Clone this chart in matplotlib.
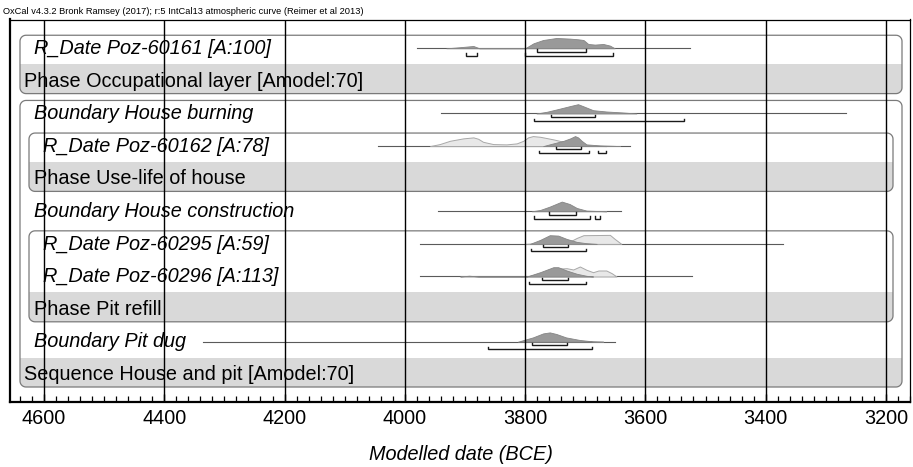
import numpy as np
import matplotlib
matplotlib.use('Agg')
import matplotlib.pyplot as plt
from matplotlib.path import Path
from matplotlib.patches import PathPatch, Rectangle
from matplotlib.transforms import blended_transform_factory
from matplotlib.ticker import MultipleLocator

plt.rcParams['font.family'] = ['Liberation Sans', 'DejaVu Sans']

# rows from top to bottom
labels = ['R_Date Poz-60161 [A:100]', 'Phase Occupational layer [Amodel:70]',
          'Boundary House burning', 'R_Date Poz-60162 [A:78]', 'Phase Use-life of house',
          'Boundary House construction', 'R_Date Poz-60295 [A:59]', 'R_Date Poz-60296 [A:113]',
          'Phase Pit refill', 'Boundary Pit dug', 'Sequence House and pit [Amodel:70]']
levels = [1, 0, 1, 2, 1, 1, 2, 2, 1, 1, 0]
italic = [True, False, True, True, False, True, True, True, False, True, False]

# full range line under each distribution (BCE)
line_range = {0: (3980, 3526), 2: (3940, 3267), 3: (4045, 3626), 5: (3944, 3641),
              6: (3975, 3371), 7: (3975, 3522), 9: (4335, 3650)}

# modelled (dark) distributions: years, relative height
post_years = {
    0: [3931, 3910, 3886, 3876, 3800, 3786, 3770, 3748, 3726, 3712, 3703, 3695, 3684, 3670, 3659, 3651],
    2: [3781, 3764, 3748, 3726, 3712, 3701, 3687, 3665, 3637, 3615],
    3: [3770, 3753, 3736, 3725, 3717, 3712, 3706, 3698, 3676, 3654, 3642],
    5: [3789, 3775, 3759, 3739, 3726, 3714, 3698, 3665],
    6: [3792, 3775, 3759, 3745, 3731, 3714, 3698, 3681],
    7: [3908, 3893, 3878, 3797, 3775, 3753, 3745, 3731, 3714, 3698, 3687],
    9: [3812, 3787, 3770, 3759, 3748, 3732, 3709, 3687, 3670],
}
post_prob = {
    0: [0, 1.0, 2.3, 0, 0, 5, 8.3, 10.3, 9.7, 9, 8.3, 4.3, 3.7, 4.3, 2.7, 0],
    2: [0, 1.7, 4, 7.3, 9.3, 6.7, 3.3, 2, 1, 0],
    3: [0, 2.7, 5.3, 7.7, 10, 8.7, 5.3, 1.7, 0.7, 0.3, 0],
    5: [0, 1.3, 4.7, 9.7, 7.3, 3.3, 0.7, 0],
    6: [0, 4, 8.7, 8.3, 5, 2, 0.7, 0],
    7: [0, 0.8, 0, 0, 4.3, 9.3, 9.3, 6, 2.7, 0.7, 0],
    9: [0, 4.3, 8.3, 9.3, 7.7, 4.3, 1.7, 0.3, 0],
}

# unmodelled (light) likelihoods
like_years = {
    3: [3958, 3942, 3925, 3903, 3886, 3878, 3870, 3853, 3831, 3814, 3803, 3795, 3787, 3775,
        3753, 3736, 3720, 3709, 3698, 3687, 3665],
    6: [3800, 3770, 3740, 3726, 3714, 3703, 3659, 3651, 3640],
    7: [3797, 3775, 3753, 3740, 3731, 3720, 3709, 3698, 3687, 3678, 3665, 3656, 3648],
}
like_prob = {
    3: [0, 2, 5.3, 7.7, 8.7, 7.3, 4.3, 2, 1.7, 2.7, 5.3, 8.7, 10, 9.3, 6.7, 4.3, 3.3, 2.7, 1, 0.3, 0],
    6: [0, 1, 1.5, 2.3, 6, 8.7, 9, 5, 0],
    7: [0, 3, 7, 8, 8.3, 7, 10, 6.7, 4.3, 6, 6, 3.3, 0],
}

# highest posterior density ranges
hpd68 = {0: [(3781, 3699)], 2: [(3757, 3683)], 3: [(3748, 3707)], 5: [(3761, 3716)],
         6: [(3771, 3728)], 7: [(3772, 3728)], 9: [(3789, 3730)]}
hpd95 = {0: [(3898, 3880), (3800, 3654)], 2: [(3785, 3535)], 3: [(3777, 3693), (3679, 3665)],
         5: [(3785, 3692), (3684, 3676)], 6: [(3791, 3699)], 7: [(3793, 3699)], 9: [(3862, 3689)]}

# grouping boxes: first row, last row, nesting level
boxes = [(0, 1, 0), (2, 10, 0), (3, 4, 1), (6, 8, 1)]

W, H = 913, 467
fig = plt.figure(figsize=(W / 100, H / 100), dpi=100)
ax = fig.add_axes([10 / W, 1 - 402 / H, 900 / W, (402 - 19.5) / H])
ax.set_xlim(4656.5, 3160)
ax.set_ylim(10.85, -0.883)
ax.set_yticks([])

px_row = 32.6           # pixels per row
trans = blended_transform_factory(ax.transAxes, ax.transData)


def rounded_path(x0, x1, y0, y1, rx, ry, n=10):
    pts = []
    corners = [((x1 - rx, y0 + ry), 90, 0), ((x1 - rx, y1 - ry), 0, -90),
               ((x0 + rx, y1 - ry), -90, -180), ((x0 + rx, y0 + ry), 180, 90)]
    for (cx, cy), a0, a1 in corners:
        t = np.radians(np.linspace(a0, a1, n))
        pts += list(zip(cx + rx * np.cos(t), cy - ry * np.sin(t)))
    pts.append(pts[0])
    return Path(pts)


rx = 6 / 900
ry = 6 / px_row
for first, last, lev in boxes:
    x0 = (20 + 9 * lev - 10) / 900
    x1 = (902 - 9 * lev - 10) / 900
    y0 = first - 0.40
    y1 = last + 0.39
    box = PathPatch(rounded_path(x0, x1, y0, y1, rx, ry), transform=trans,
                    facecolor='white', edgecolor='none', zorder=1 + lev)
    ax.add_patch(box)
    band = Rectangle((x0, last - 0.51), x1 - x0, y1 - (last - 0.51), transform=trans,
                     facecolor='#d9d9d9', edgecolor='none', zorder=1 + lev)
    ax.add_patch(band)
    band.set_clip_path(box)
    ax.add_patch(PathPatch(rounded_path(x0, x1, y0, y1, rx, ry), transform=trans,
                           facecolor='none', edgecolor='#7a7a7a', lw=0.9, zorder=1.5 + lev))

# labels
for i, lab in enumerate(labels):
    ax.text((24 + 9.5 * levels[i] - 10) / 900, i + 0.175, lab, transform=trans,
            fontsize=14.3, style='italic' if italic[i] else 'normal',
            va='baseline', ha='left', zorder=5)

# distributions
for r, (a, b) in line_range.items():
    ax.plot([a, b], [r, r], color='#5a5a5a', lw=0.8, zorder=4)
for r in like_years:
    yy = np.array(like_years[r])
    pp = np.array(like_prob[r]) / px_row
    ax.fill_between(yy, r, r - pp, facecolor='#e8e8e8', edgecolor='#a8a8a8', lw=0.7, zorder=4.2)
for r in post_years:
    yy = np.array(post_years[r])
    pp = np.array(post_prob[r]) / px_row
    ax.fill_between(yy, r, r - pp, facecolor='#999999', edgecolor='#858585', lw=0.6, zorder=4.4)


def bracket(a, b, y):
    tick = 2.2 / px_row
    ax.plot([a, a, b, b], [y - tick, y, y, y - tick], color='#1a1a1a', lw=1.0,
            solid_joinstyle='miter', zorder=4.6)


for r, rngs in hpd68.items():
    for a, b in rngs:
        bracket(a, b, r + 3.4 / px_row)
for r, rngs in hpd95.items():
    for a, b in rngs:
        bracket(a, b, r + 7.3 / px_row)

# grid lines at major ticks
for yr in range(4600, 3199, -200):
    ax.axvline(yr, color='black', lw=1.0, zorder=10)

ax.xaxis.set_major_locator(MultipleLocator(200))
ax.xaxis.set_minor_locator(MultipleLocator(20))
ax.tick_params(axis='x', which='major', direction='in', length=6, width=1, labelsize=14.3, pad=5)
ax.tick_params(axis='x', which='minor', direction='in', length=4, width=0.9)
ax.tick_params(axis='y', left=False)
for side in ['left', 'bottom']:
    ax.spines[side].set_linewidth(1.6)
for side in ['top', 'right']:
    ax.spines[side].set_linewidth(0.9)
for s in ax.spines.values():
    s.set_zorder(11)

fig.text(3 / W, 1 - 12 / H,
         'OxCal v4.3.2 Bronk Ramsey (2017); r:5 IntCal13 atmospheric curve (Reimer et al 2013)',
         fontsize=6.7, va='center', ha='left')
fig.text(461 / W, 1 - 455 / H, 'Modelled date (BCE)', fontsize=14.3, style='italic',
         ha='center', va='center')

fig.savefig('out.png', dpi=100)
